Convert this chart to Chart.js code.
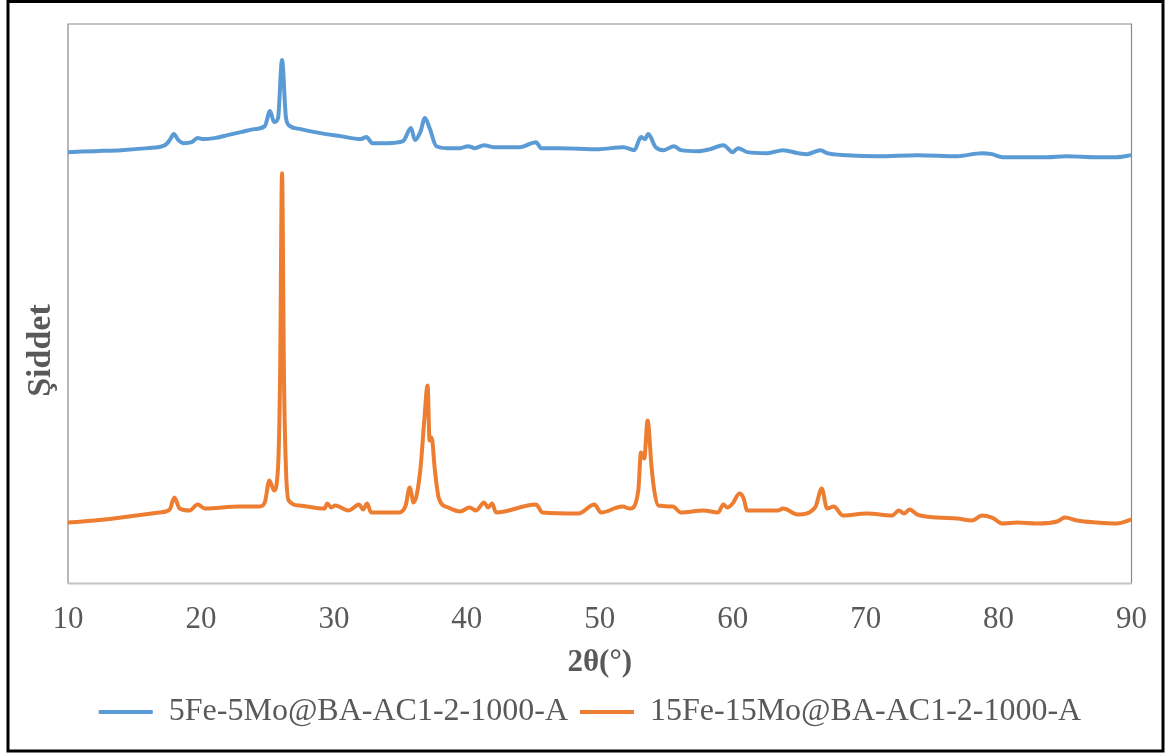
<!DOCTYPE html>
<html>
<head>
<meta charset="utf-8">
<script src="https://cdn.jsdelivr.net/npm/chart.js@4.4.1/dist/chart.umd.min.js"></script>
<style>
  body { margin: 0; background: #ffffff; }
  #wrap { width: 1165px; height: 753px; }
</style>
</head>
<body>
<div id="wrap"><canvas id="xrd" width="1165" height="753"></canvas></div>
<script>
// 2theta positions and intensities (a.u.)
const blueTheta = [10, 12, 14, 16, 17.3, 17.7, 17.95, 18.3, 18.7, 19.3, 19.75, 20.2, 21, 22, 23, 24, 24.8, 25.2, 25.5, 25.8, 26.1, 26.4, 26.7, 27.5, 29, 30.5, 32, 32.45, 32.9, 34, 35.2, 35.8, 36.1, 36.5, 36.85, 37.2, 37.7, 38.5, 39.5, 40.1, 40.6, 41.3, 42, 44, 45.2, 45.6, 47, 49.9, 51.8, 52.6, 53.1, 53.4, 53.65, 54.2, 54.8, 55.6, 56.1, 57.4, 58.3, 59.3, 60, 60.4, 61.1, 62.6, 63.8, 64.9, 65.6, 66.6, 67.1, 68.6, 70.9, 73.9, 76.9, 78.75, 79.5, 80.3, 83.6, 85.1, 87.4, 88.9, 90];
const blueInt = [431, 432, 433, 435, 438, 444, 449, 443, 440, 441, 445, 444, 445, 448, 451, 454, 457, 472, 461, 465, 523, 465, 457, 454, 450, 447, 444, 446, 440, 440, 442, 455, 443, 451, 465, 455, 437, 435, 435, 437, 435, 438, 436, 436, 441, 435, 435, 434, 436, 433, 446, 444, 449, 436, 433, 437, 433, 432, 434, 438, 431, 435, 431, 430, 433, 430, 429, 433, 430, 428, 427, 428, 427, 430, 429, 426, 426, 427, 426, 426, 428];

const orangeTheta = [10, 12, 14, 16.9, 17.65, 18, 18.4, 19.15, 19.75, 20.3, 22.9, 24.4, 24.8, 25.15, 25.5, 25.8, 25.95, 26.1, 26.25, 26.4, 26.6, 27.4, 29.3, 29.5, 29.8, 30.1, 31.1, 31.9, 32.2, 32.5, 32.8, 34.9, 35.4, 35.7, 36, 36.5, 36.8, 37.05, 37.2, 37.35, 37.6, 37.9, 38.6, 39.5, 40.2, 40.7, 41.3, 41.6, 41.9, 42.2, 45.2, 45.7, 48.4, 49.6, 50.1, 51.7, 52.3, 52.9, 53.1, 53.35, 53.6, 53.9, 54.1, 54.4, 55.5, 56.1, 57.8, 58.9, 59.3, 59.6, 60, 60.5, 60.8, 61.1, 63.4, 63.8, 64.9, 66.2, 66.7, 67.1, 67.6, 68.3, 70.1, 72, 72.5, 72.9, 73.3, 73.9, 75.4, 76.9, 78, 78.75, 79.5, 80.3, 81.4, 82.9, 84.4, 85, 85.9, 87.4, 88.9, 90];
const orangeInt = [61, 63, 66, 71, 74, 86, 75, 73, 79, 75, 77, 77, 81, 103, 93, 116, 203, 410, 203, 113, 83, 78, 75, 80, 76, 78, 73, 79, 74, 80, 71, 71, 78, 96, 81, 113, 163, 198, 143, 146, 113, 85, 76, 72, 76, 73, 81, 76, 80, 71, 79, 71, 70, 79, 71, 77, 75, 93, 131, 125, 163, 116, 93, 78, 77, 71, 73, 71, 79, 76, 80, 90, 86, 73, 73, 75, 69, 76, 95, 75, 77, 68, 70, 68, 73, 70, 74, 69, 66, 65, 63, 68, 66, 60, 61, 60, 62, 66, 63, 61, 60, 64];

const seriesNames = ['5Fe-5Mo@BA-AC1-2-1000-A', '15Fe-15Mo@BA-AC1-2-1000-A'];
const xTitle = '2θ(°)';
// trailing spaces push the rotated title down, as in the original
const yTitle = 'Şiddet           ';

const serif = "'Liberation Serif', 'Times New Roman', serif";
const textColor = '#595959';

const toPoints = (xs, ys) => xs.map((x, i) => ({x: x, y: ys[i]}));

const frame = {
    id: 'frame',
    beforeDatasetsDraw(chart) {
        const {ctx, chartArea: a} = chart;
        ctx.save();
        ctx.strokeStyle = '#898989';
        ctx.lineWidth = 1.2;
        ctx.beginPath();
        ctx.moveTo(a.left, a.bottom);
        ctx.lineTo(a.left, a.top);
        ctx.lineTo(a.right, a.top);
        ctx.lineTo(a.right, a.bottom);
        ctx.stroke();
        ctx.strokeStyle = '#c4c4c4';
        ctx.lineWidth = 2;
        ctx.beginPath();
        ctx.moveTo(a.left, a.bottom);
        ctx.lineTo(a.right, a.bottom);
        ctx.stroke();
        ctx.restore();
    },
    afterDraw(chart) {
        const ctx = chart.ctx;
        ctx.save();
        ctx.strokeStyle = '#000000';
        ctx.lineWidth = 3;
        ctx.strokeRect(8, 1.5, 1155, 749.5);
        ctx.restore();
    }
};

const ctx = document.getElementById('xrd').getContext('2d');
new Chart(ctx, {
    type: 'line',
    data: {
        datasets: [{
            label: seriesNames[0],
            data: toPoints(blueTheta, blueInt),
            borderColor: '#5B9BD5',
            backgroundColor: '#5B9BD5',
            borderWidth: 4,
            pointRadius: 0,
            cubicInterpolationMode: 'monotone'
        }, {
            label: seriesNames[1],
            data: toPoints(orangeTheta, orangeInt),
            borderColor: '#ED7D31',
            backgroundColor: '#ED7D31',
            borderWidth: 4,
            pointRadius: 0,
            cubicInterpolationMode: 'monotone'
        }]
    },
    options: {
        responsive: false,
        animation: false,
        layout: {
            padding: {top: 24, right: 30, left: 45, bottom: 15}
        },
        plugins: {
            legend: {
                position: 'bottom',
                labels: {
                    color: textColor,
                    font: {family: serif, size: 32},
                    boxWidth: 54,
                    boxHeight: 4,
                    padding: 12,
                    generateLabels(chart) {
                        return chart.data.datasets.map((ds, i) => ({
                            text: ds.label,
                            fillStyle: ds.borderColor,
                            strokeStyle: ds.borderColor,
                            lineWidth: 0,
                            fontColor: textColor,
                            datasetIndex: i
                        }));
                    }
                }
            },
            tooltip: {enabled: false}
        },
        scales: {
            x: {
                type: 'linear',
                min: 10,
                max: 90,
                grid: {display: false, drawTicks: false},
                border: {display: false},
                ticks: {
                    stepSize: 10,
                    color: textColor,
                    font: {family: serif, size: 31},
                    padding: 18,
                    maxRotation: 0
                },
                title: {
                    display: true,
                    text: xTitle,
                    color: textColor,
                    font: {family: serif, size: 31, weight: 'bold'},
                    padding: {top: -12, bottom: 2}
                }
            },
            y: {
                min: 0,
                max: 559,
                grid: {display: false, drawTicks: false},
                border: {display: false},
                ticks: {display: false},
                afterFit(scale) { scale.width = 23; },
                title: {
                    display: true,
                    text: yTitle,
                    color: textColor,
                    font: {family: serif, size: 34, weight: 'bold'},
                    padding: {top: -24, bottom: 0}
                }
            }
        }
    },
    plugins: [frame]
});
</script>
</body>
</html>
